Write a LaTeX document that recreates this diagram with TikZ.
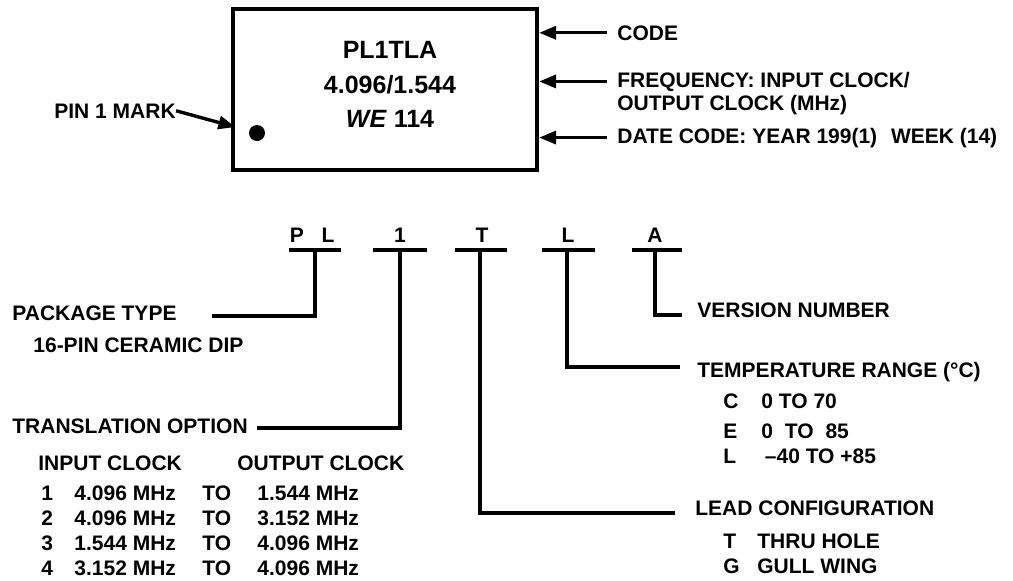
\documentclass[tikz,border=0pt]{standalone}
\usepackage{fontspec}
\setmainfont{Liberation Sans}
\usetikzlibrary{arrows.meta, positioning}
\newcommand{\optrow}[3]{\makebox[16.5pt][l]{#1}\makebox[64pt][l]{#2}\makebox[27.5pt][l]{TO}#3}
\newcommand{\keyrow}[3]{\makebox[#1][l]{#2}#3}

\begin{document}
\begin{tikzpicture}[x=0.5pt, y=-0.5pt, >={Triangle[length=8.5pt, width=6.5pt]},
    font=\fontsize{10.5}{12.6}\selectfont\bfseries,
    lbl/.style={anchor=base west, inner sep=0pt},
    code/.style={anchor=base, inner sep=0pt},
    wire/.style={line width=1.7pt},
    pointer/.style={->, line width=1.7pt}]
    \useasboundingbox (0,0) rectangle (1013,580);
    % 封装外形与标记
    \node[draw, line width=2.1pt, minimum width=152pt, minimum height=80.5pt, inner sep=0pt] (chip) at (385,89.5) {};
    \node[code, font=\fontsize{12.5}{15}\selectfont\bfseries] (mark1) at (390,58) {PL1TLA};
    \node[code, font=\fontsize{12.5}{15}\selectfont\bfseries] (mark2) at (390,93) {4.096/1.544};
    \node[code, font=\fontsize{12.5}{15}\selectfont\bfseries] (mark3) at (390,127) {\textit{WE} 114};
    \node[circle, fill, inner sep=0pt, minimum size=8pt] (dot) at (257,133) {};
    \node[lbl] (pin) at (54,118) {PIN 1 MARK};
    \draw[pointer, shorten >=7pt] (pin.east) -- (dot);
    % 右侧说明
    \node[lbl] (code) at (617,40) {CODE};
    \node[lbl] (freq) at (617,87) {FREQUENCY: INPUT CLOCK/};
    \node[lbl] (freqb) at (617,110) {OUTPUT CLOCK (MHz)};
    \node[lbl] (date) at (617,143) {DATE CODE: YEAR 199(1)\hspace{4pt} WEEK (14)};
    \draw[pointer] ([xshift=-5pt]code.west) -- (code.west -| chip.east);
    \draw[pointer] ([xshift=-5pt]freq.west) -- (freq.west -| chip.east);
    \draw[pointer] ([xshift=-5pt]date.west) -- (date.west -| chip.east);
    % 型号各位
    \node[code] (cP) at (297,242) {P};
    \node[code] (cL) at (328,242) {L};
    \node[code] (c1) at (400,242) {1};
    \node[code] (cT) at (482,242) {T};
    \node[code] (cR) at (568,242) {L};
    \node[code] (cA) at (655,242) {A};
    \coordinate (uPL) at (315,250);
    \coordinate (u1) at (400,250);
    \coordinate (uT) at (480,250);
    \coordinate (uR) at (567,250);
    \coordinate (uA) at (655,250);
    \draw[wire] (uPL) ++(-26,0) -- ++(52,0);
    \draw[wire] (u1) ++(-27,0) -- ++(54,0);
    \draw[wire] (uT) ++(-25,0) -- ++(52,0);
    \draw[wire] (uR) ++(-25,0) -- ++(53,0);
    \draw[wire] (uA) ++(-23,0) -- ++(50,0);
    % 左侧：封装类型、转换选项
    \node[lbl] (pkg) at (12,320) {PACKAGE TYPE};
    \node[lbl] (pkgval) at (33,352) {16-PIN CERAMIC DIP};
    \coordinate (pkgEnd) at (212,316);
    \draw[wire] (uPL) |- (pkgEnd);
    \node[lbl] (trans) at (12,433) {TRANSLATION OPTION};
    \coordinate (transEnd) at (257,428);
    \draw[wire] (u1) |- (transEnd);
    \node[lbl] (inhead) at (38,470) {INPUT CLOCK};
    \node[lbl] (outhead) at (237,470) {OUTPUT CLOCK};
    \node[lbl] (opt1) at (41,500) {\optrow{1}{4.096 MHz}{1.544 MHz}};
    \node[lbl] (opt2) at (41,525) {\optrow{2}{4.096 MHz}{3.152 MHz}};
    \node[lbl] (opt3) at (41,550) {\optrow{3}{1.544 MHz}{4.096 MHz}};
    \node[lbl] (opt4) at (41,575) {\optrow{4}{3.152 MHz}{4.096 MHz}};
    % 右侧：版本、温度范围、引脚形式
    \node[lbl] (ver) at (697,317) {VERSION NUMBER};
    \coordinate (verEnd) at (682,315);
    \draw[wire] (uA) |- (verEnd);
    \node[lbl] (temp) at (697,377) {TEMPERATURE RANGE (°C)};
    \coordinate (tempEnd) at (680,367);
    \draw[wire] (uR) |- (tempEnd);
    \node[lbl] (tempC) at (723,408) {\keyrow{19pt}{C}{0 TO 70}};
    \node[lbl] (tempE) at (723,438) {\keyrow{19pt}{E}{0\hspace{3pt} TO\hspace{3pt} 85}};
    \node[lbl] (tempL) at (723,463) {\keyrow{19pt}{L}{\,–40 TO +85}};
    \node[lbl] (lead) at (695,515) {LEAD CONFIGURATION};
    \coordinate (leadEnd) at (675,513);
    \draw[wire] (uT) |- (leadEnd);
    \node[lbl] (leadT) at (723,548) {\keyrow{17pt}{T}{THRU HOLE}};
    \node[lbl] (leadG) at (723,573) {\keyrow{17pt}{G}{GULL WING}};
\end{tikzpicture}
\end{document}
